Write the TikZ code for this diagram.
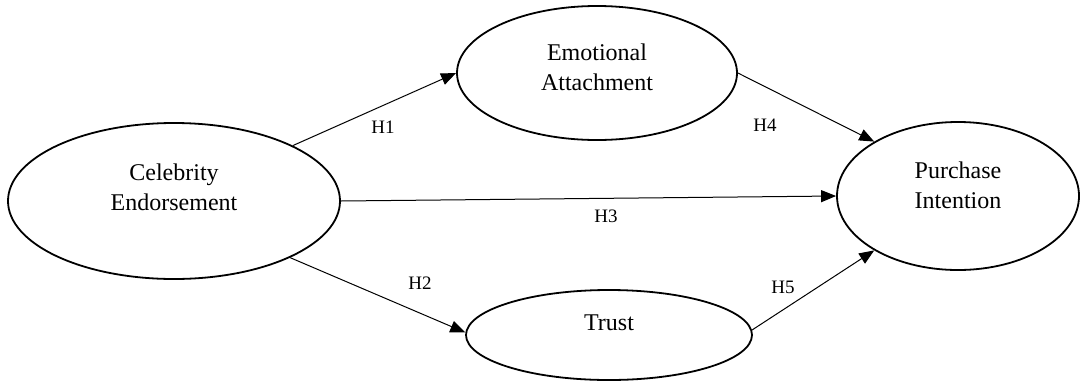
\documentclass[tikz,border=0pt]{standalone}
\usepackage{fontspec}
\setmainfont{Liberation Serif}
\usetikzlibrary{shapes.geometric,arrows.meta}
\begin{document}
\begin{tikzpicture}[x=1pt,y=-1pt,
  construct/.style={draw=black,line width=1.8pt,ellipse,inner sep=0pt},
  nodetext/.style={align=center,font=\fontsize{24}{30}\selectfont},
  hyp/.style={font=\fontsize{19}{22}\selectfont},
  link/.style={line width=1pt,-{Triangle[length=15pt,width=12pt]}}]
\useasboundingbox (0,0) rectangle (1081,381);
\node[construct,minimum width=332pt,minimum height=156pt] (ce) at (174,201) {};
\node[construct,minimum width=280pt,minimum height=134pt] (ea) at (597,73) {};
\node[construct,minimum width=242pt,minimum height=148pt] (pi) at (958,196) {};
\node[construct,minimum width=286pt,minimum height=90pt] (tr) at (609,335) {};
\node[nodetext] at (174,187) {Celebrity\\Endorsement};
\node[nodetext] at (597,67) {Emotional\\Attachment};
\node[nodetext] at (958,185) {Purchase\\Intention};
\node[nodetext] at (609,323) {Trust};
\draw[link] (ce.25.4) -- (ea.180);
\draw[link] (ea.0) -- (pi.147.4);
\draw[link] (ce.-0.3) -- (pi.180);
\draw[link] (ce.-26.6) -- (tr.179);
\draw[link] (tr.2) -- (pi.213);
\node[hyp] (h1) at (383,127) {H1};
\node[hyp] (h4) at (765,125) {H4};
\node[hyp] (h3) at (606,216) {H3};
\node[hyp] (h2) at (420,283) {H2};
\node[hyp] (h5) at (783,287) {H5};
\end{tikzpicture}
\end{document}
